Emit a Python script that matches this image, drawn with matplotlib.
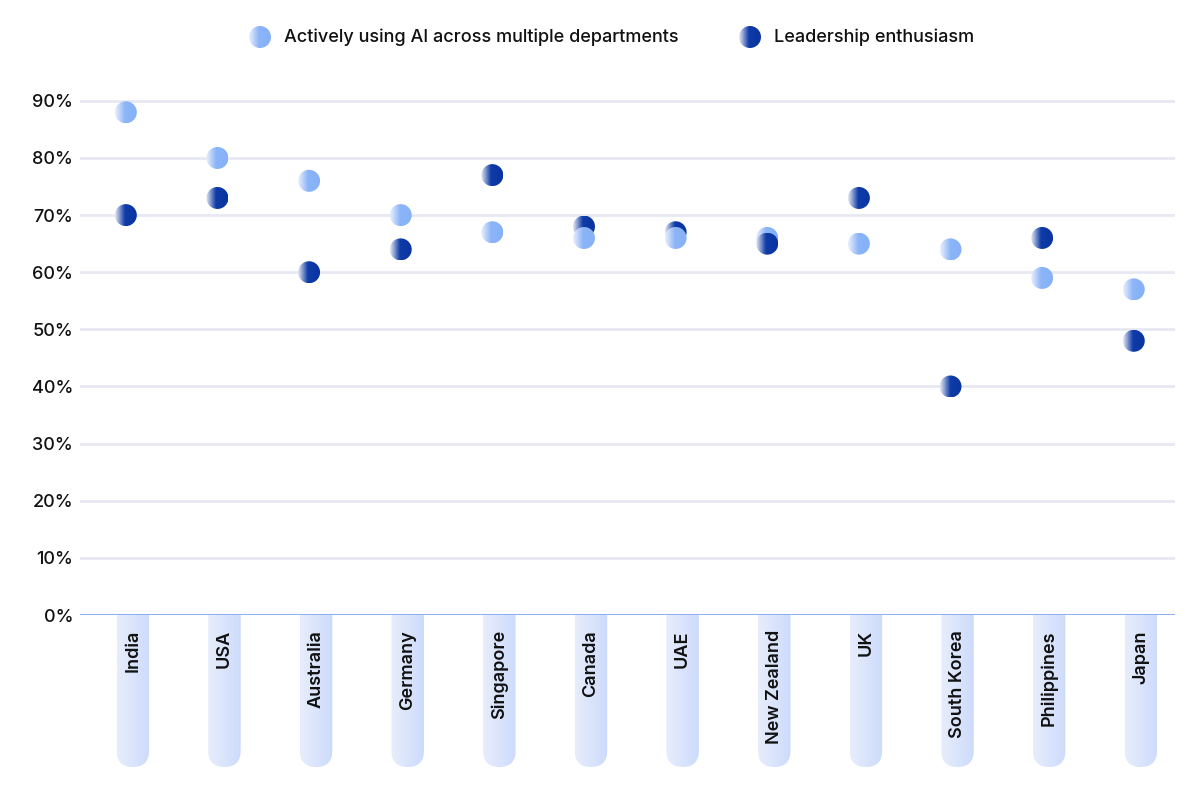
import matplotlib.pyplot as plt
import numpy as np
from matplotlib.patches import Ellipse, FancyBboxPatch
from matplotlib.colors import LinearSegmentedColormap

plt.rcParams['font.family'] = ['Inter', 'DejaVu Sans']

countries = ['India', 'USA', 'Australia', 'Germany', 'Singapore', 'Canada',
             'UAE', 'New Zealand', 'UK', 'South Korea', 'Philippines', 'Japan']
active_ai = [88, 80, 76, 70, 67, 66, 66, 66, 65, 64, 59, 57]
leadership = [70, 73, 60, 64, 77, 68, 67, 65, 73, 40, 66, 48]
yticks = [0, 10, 20, 30, 40, 50, 60, 70, 80, 90]

light_cmap = LinearSegmentedColormap.from_list(
    'light', [(0, '#eaf0fd'), (0.45, '#8cb5f8'), (1, '#86b1f8')])
dark_cmap = LinearSegmentedColormap.from_list(
    'dark', [(0, '#e4e8f1'), (0.45, '#0f3ca8'), (1, '#0a349f')])
pill_cmap = LinearSegmentedColormap.from_list('pill', ['#e7edfc', '#cddbfb'])

W, H = 1200, 790
fig = plt.figure(figsize=(W / 100, H / 100), dpi=100)
left_px, right_px, top_px, bot_px = 80, 1175, 90, 615
ax = fig.add_axes([left_px / W, 1 - bot_px / H, (right_px - left_px) / W, (bot_px - top_px) / H])

xlim = (-0.5, 11.45)
ylim = (0, 91.9)
ax.set_xlim(*xlim)
ax.set_ylim(*ylim)
px_x = (right_px - left_px) / (xlim[1] - xlim[0])
px_y = (bot_px - top_px) / (ylim[1] - ylim[0])

for s in ax.spines.values():
    s.set_visible(False)
ax.set_yticks(yticks)
ax.set_yticklabels([f'{v}%' for v in yticks], fontsize=13, fontweight='medium', color='#111111')
ax.tick_params(axis='y', length=0, pad=5)
ax.set_xticks([])
for v in yticks[1:]:
    ax.axhline(v, color='#e8e8f3', lw=2, zorder=0)
ax.axhline(0, color='#8fb0f3', lw=1.5, zorder=1)

grad = np.linspace(0, 1, 64).reshape(1, -1)


def gradient_dot(x, y, cmap, d=22, z=3):
    w, h = d / px_x, d / px_y
    el = Ellipse((x, y), w, h, facecolor='none', edgecolor='none')
    ax.add_patch(el)
    im = ax.imshow(grad, cmap=cmap, extent=(x - w / 2, x + w / 2, y - h / 2, y + h / 2),
                   aspect='auto', interpolation='bilinear', zorder=z)
    im.set_clip_path(el)


xs = np.arange(len(countries))
for i in xs:
    # lower point sits on top where they overlap
    if leadership[i] > active_ai[i]:
        gradient_dot(i, leadership[i], dark_cmap, z=3)
        gradient_dot(i, active_ai[i], light_cmap, z=4)
    else:
        gradient_dot(i, active_ai[i], light_cmap, z=3)
        gradient_dot(i, leadership[i], dark_cmap, z=4)

# pills under the axis holding the category labels
pill_w = 32.5 / px_x
pill_shift = 7 / px_x
pill_bottom = -(767 - bot_px) / px_y
rad_y = (pill_w / 2) * px_x / px_y
for i, name in zip(xs, countries):
    xc = i + pill_shift
    x0 = xc - pill_w / 2
    # box runs past the axis line so only the bottom end shows rounded
    box = FancyBboxPatch((x0, pill_bottom), pill_w, -pill_bottom + 2 * rad_y,
                         boxstyle='round,pad=0,rounding_size=%f' % (pill_w / 2),
                         mutation_aspect=px_x / px_y,
                         facecolor='none', edgecolor='none', clip_on=False)
    ax.add_patch(box)
    im = ax.imshow(grad, cmap=pill_cmap,
                   extent=(x0, x0 + pill_w, pill_bottom, 0), aspect='auto',
                   interpolation='bilinear', zorder=0.5)
    im.set_clip_box(fig.bbox)
    im.set_clip_path(box)
    ax.text(xc, -15 / px_y, name, rotation=90, ha='center', va='top',
            fontsize=13, fontweight='semibold', color='#111111', clip_on=False)
ax.set_xlim(*xlim)
ax.set_ylim(*ylim)

# legend
lax = fig.add_axes([0, 0, 1, 1], facecolor='none')
lax.set_xlim(0, W)
lax.set_ylim(H, 0)
lax.axis('off')
legend_items = [(260, 'Actively using AI across multiple departments', light_cmap),
                (750, 'Leadership enthusiasm', dark_cmap)]
for lx, label, cmap in legend_items:
    el = Ellipse((lx, 37), 22, 22, facecolor='none', edgecolor='none')
    lax.add_patch(el)
    im = lax.imshow(grad, cmap=cmap, extent=(lx - 11, lx + 11, 48, 26), aspect='auto',
                    interpolation='bilinear')
    im.set_clip_path(el)
    lax.text(lx + 24, 37, label, ha='left', va='center', fontsize=13,
             fontweight='medium', color='#111111')
lax.set_xlim(0, W)
lax.set_ylim(H, 0)

fig.savefig('out.png', dpi=100)
